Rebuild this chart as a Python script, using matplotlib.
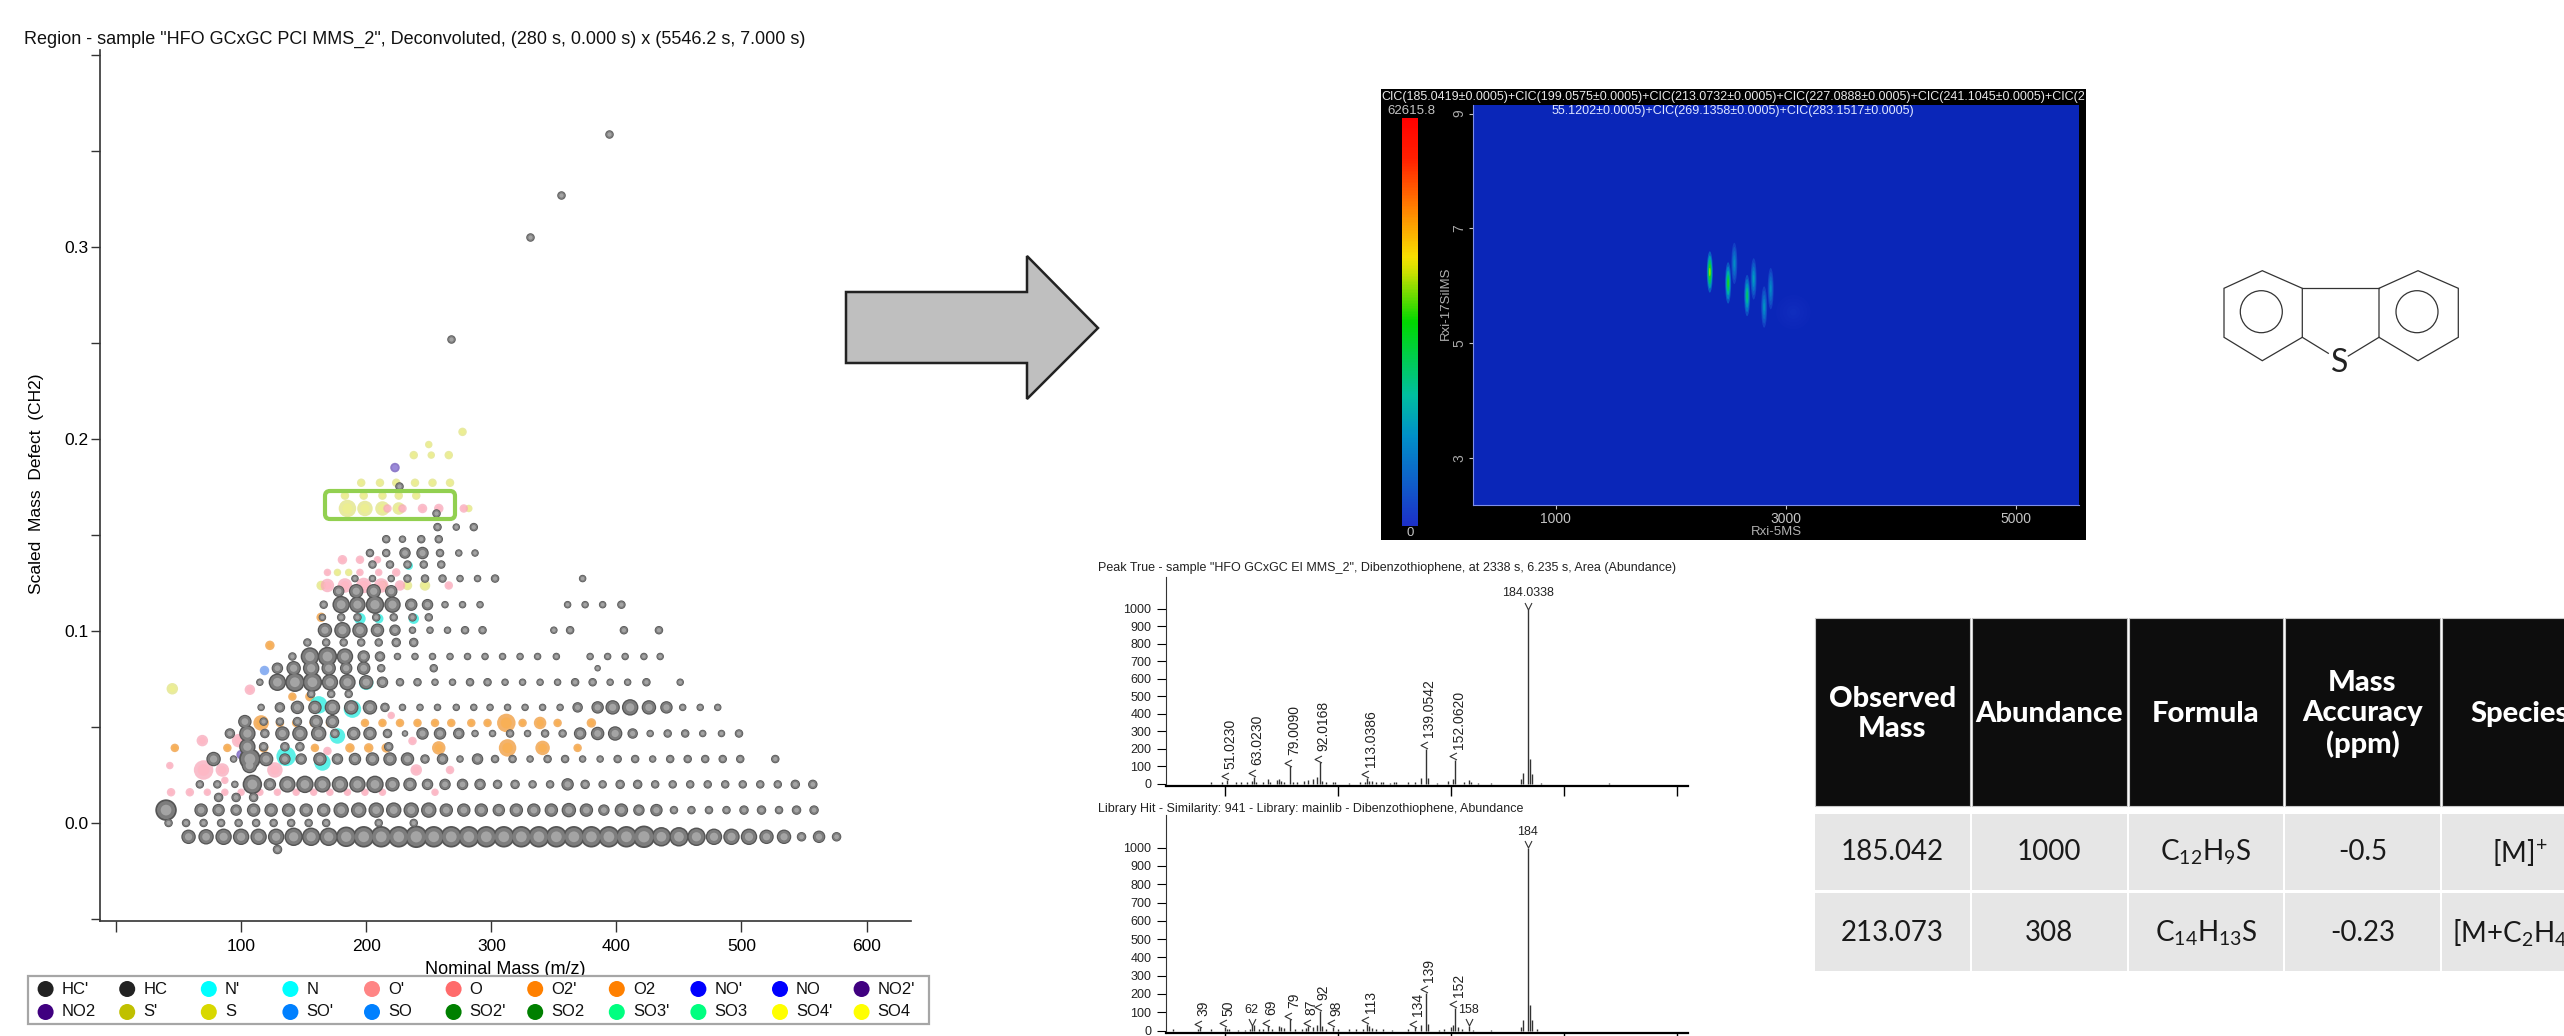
import matplotlib
matplotlib.use("Agg")
import numpy as np
import matplotlib.pyplot as plt
from matplotlib.patches import Polygon, Circle, Rectangle, FancyBboxPatch, Ellipse
from matplotlib.colors import LinearSegmentedColormap, Normalize
from matplotlib.cm import ScalarMappable
from matplotlib.path import Path

W, H = 2564, 1036
SANS = ["Liberation Sans", "DejaVu Sans"]
LATO = ["Lato", "DejaVu Sans"]
plt.rcParams["font.family"] = SANS
plt.rcParams["mathtext.fontset"] = "custom"
plt.rcParams["mathtext.rm"] = "Lato"
plt.rcParams["mathtext.it"] = "Lato"
plt.rcParams["mathtext.bf"] = "Lato:bold"
plt.rcParams["mathtext.default"] = "regular"

TITLE = 'Region - sample "HFO GCxGC PCI MMS_2", Deconvoluted, (280 s, 0.000 s) x (5546.2 s, 7.000 s)'

# Hydrocarbon rows of the mass defect plot: defect, nominal masses, marker diameter
hc_defects = [-0.0072, -0.0138, 0.0, 0.0067, 0.0133, 0.0201, 0.0302, 0.0333, 0.0397, 0.0466, 0.0528, 0.0602,
              0.0672, 0.0733, 0.0806, 0.0867, 0.0940, 0.1004, 0.1071, 0.1137, 0.1207, 0.1273, 0.1346, 0.1406,
              0.1478, 0.1541, 0.1615, 0.1755, 0.2519, 0.3051, 0.3269, 0.3591]
hc_masses = [
    [58, 72, 86, 100, 114, 128, 142, 156, 170, 184, 198, 212, 226, 240, 254, 268, 282, 296, 310, 324, 338,
     352, 366, 380, 394, 408, 422, 436, 450, 464, 478, 492, 506, 520, 534, 548, 562, 576],
    [129],
    [42, 56, 70, 84, 98, 112, 126, 140, 154, 168, 210, 238],
    [40, 68, 82, 96, 110, 124, 138, 152, 166, 180, 194, 208, 222, 236, 250, 264, 278, 292, 306, 320, 334,
     348, 362, 376, 390, 404, 418, 432, 446, 460, 474, 488, 502, 516, 530, 544, 558],
    [82, 96, 110],
    [67, 81, 95, 109, 123, 137, 151, 165, 179, 193, 207, 221, 235, 249, 263, 277, 291, 305, 319, 333, 347,
     361, 375, 389, 403, 417, 431, 445, 459, 473, 487, 501, 515, 529, 543, 557],
    [106],
    [78, 94, 107, 120, 135, 148, 163, 177, 191, 205, 219, 233, 247, 261, 275, 289, 303, 317, 331, 345, 359,
     373, 387, 401, 415, 429, 443, 457, 471, 485, 499, 527],
    [105, 118, 135, 147, 218],
    [91, 105, 119, 133, 147, 162, 175, 190, 203, 217, 231, 245, 259, 274, 287, 301, 315, 329, 343, 357, 371,
     385, 399, 413, 427, 441, 455, 469, 484, 498],
    [103, 118, 131, 145, 160, 173],
    [116, 131, 145, 159, 173, 188, 203, 215, 229, 243, 257, 272, 286, 299, 313, 327, 341, 355, 369, 385, 397,
     411, 426, 440, 453, 467, 481],
    [156, 172, 186],
    [115, 129, 143, 157, 171, 185, 200, 213, 227, 241, 255, 269, 283, 297, 311, 325, 339, 353, 367, 381, 395,
     409, 424, 451],
    [129, 142, 156, 170, 184, 198, 212, 254, 385],
    [141, 155, 169, 183, 198, 211, 225, 239, 253, 267, 281, 295, 309, 323, 337, 352, 379, 393, 407, 422, 435],
    [153, 168, 182, 196, 210, 224, 238],
    [167, 181, 195, 209, 223, 237, 251, 265, 279, 293, 350, 363, 406, 434],
    [165, 180, 193, 208, 222, 237, 250],
    [166, 180, 193, 207, 221, 236, 249, 263, 277, 291, 361, 375, 389, 404],
    [178, 192, 206, 220],
    [191, 205, 220, 233, 247, 261, 275, 289, 303, 373],
    [205, 219, 233, 246, 260],
    [203, 216, 231, 245, 259, 274, 287],
    [216, 229, 244, 258],
    [257, 272, 286],
    [256],
    [226],
    [268],
    [331],
    [356],
    [394],
]
hc_sizes = [
    [13, 14, 15, 15, 15, 15, 17, 17, 17, 19, 20, 20, 20, 21, 20, 20, 20, 20, 20, 20, 20,
     20, 20, 20, 20, 20, 21, 18, 18, 17, 15, 15, 15, 13, 13, 8, 11, 8],
    [8],
    [7, 7, 7, 7, 7, 7, 7, 7, 7, 7, 7, 7],
    [20, 12, 11, 10, 12, 12, 12, 12, 12, 14, 14, 14, 14, 14, 14, 12, 12, 12, 11, 12, 12,
     12, 13, 12, 10, 12, 10, 11, 7, 7, 7, 7, 8, 8, 7, 8, 8],
    [8, 8, 8],
    [7, 7, 6, 18, 11, 15, 16, 15, 15, 15, 16, 13, 12, 10, 10, 10, 10, 8, 8, 7, 7,
     11, 8, 7, 8, 8, 7, 7, 7, 7, 7, 7, 7, 7, 8, 8],
    [14],
    [13, 6, 20, 13, 10, 10, 12, 10, 11, 12, 12, 12, 8, 10, 6, 10, 7, 7, 6, 7, 7,
     6, 6, 7, 7, 6, 7, 7, 7, 7, 7, 7],
    [15, 8, 8, 8, 8],
    [9, 15, 8, 13, 14, 14, 8, 12, 12, 8, 5, 11, 11, 10, 6, 6, 7, 6, 7, 7, 11,
     12, 13, 9, 6, 7, 7, 6, 6, 7],
    [12, 7, 7, 8, 12, 12],
    [6, 9, 12, 12, 14, 13, 13, 8, 6, 6, 6, 6, 6, 6, 6, 6, 6, 6, 9, 11, 13,
     15, 13, 11, 6, 6, 6],
    [7, 7, 7],
    [6, 16, 18, 18, 15, 15, 13, 10, 7, 7, 6, 6, 7, 7, 6, 6, 6, 6, 7, 7, 6,
     6, 7, 6],
    [10, 13, 15, 13, 11, 12, 7, 7, 5],
    [7, 17, 18, 15, 11, 9, 6, 6, 6, 6, 6, 6, 6, 6, 6, 6, 6, 6, 6, 6, 6],
    [7, 7, 7, 7, 7, 8, 8],
    [13, 15, 14, 12, 10, 6, 6, 6, 7, 7, 6, 7, 7, 7],
    [6, 7, 7, 7, 7, 7, 7],
    [7, 16, 15, 17, 15, 11, 10, 6, 6, 6, 6, 6, 6, 7],
    [10, 13, 13, 11],
    [6, 6, 6, 7, 7, 7, 6, 6, 7, 6],
    [7, 7, 7, 7, 7],
    [7, 7, 10, 11, 7, 6, 6],
    [7, 6, 7, 7],
    [7, 6, 7],
    [7],
    [7],
    [7],
    [7],
    [7],
    [7],
]

# coloured classes: mass, defect, diameter
cyan_mass = [136, 165, 162, 189, 177, 200, 186, 195, 210, 238, 234]
cyan_defect = [0.0347, 0.0315, 0.0615, 0.0593, 0.0453, 0.0730, 0.0721, 0.1064, 0.1064, 0.1064, 0.1340]
cyan_size = [18, 15, 16, 16, 14, 13, 8, 10, 8, 9, 7]

pink_mass = [217, 229, 245, 258, 278, 169, 183, 198, 212, 227, 266, 181, 195, 209, 169, 195, 210, 224,
             70, 85, 127, 240, 267, 44, 59, 73, 87, 100, 115, 129, 144, 158, 171, 185, 199, 213, 255,
             87, 43, 69, 98, 107, 220, 237, 169]
pink_defect = [0.1638, 0.1638, 0.1638, 0.1638, 0.1638, 0.1237, 0.1237, 0.1237, 0.1237, 0.1237, 0.1237,
               0.1371, 0.1371, 0.1371, 0.1305, 0.1305, 0.1305, 0.1305,
               0.0276, 0.0276, 0.0276, 0.0276, 0.0276, 0.016, 0.016, 0.016, 0.016, 0.016, 0.016, 0.016, 0.016,
               0.016, 0.016, 0.016, 0.016, 0.016, 0.016, 0.0222, 0.0299, 0.0429, 0.0429, 0.0694, 0.056, 0.0427,
               0.0375]
pink_size = [7, 7, 8, 8, 7, 12, 13, 14, 13, 9, 7, 8, 7, 6, 6, 6, 6, 7,
             18, 12, 14, 10, 7, 7, 7, 6, 6, 6, 6, 6, 6, 6, 6, 6, 6, 6, 6,
             6, 6, 10, 12, 9, 6, 7, 7]

orange_mass = [116, 131, 144, 158, 171, 199, 213, 227, 241, 255, 268, 284, 297, 312, 325, 339, 353, 380,
               47, 89, 118, 159, 187, 202, 216, 258, 313, 341, 369, 123, 164, 141, 155]
orange_defect = [0.0521, 0.0521, 0.0521, 0.0521, 0.0521, 0.0521, 0.0521, 0.0521, 0.0521, 0.0521, 0.0521,
                 0.0521, 0.0521, 0.0521, 0.0521, 0.0521, 0.0521, 0.0521,
                 0.0391, 0.0391, 0.0391, 0.0391, 0.0391, 0.0391, 0.0391, 0.0391, 0.0391, 0.0391, 0.0391,
                 0.0925, 0.1071, 0.0658, 0.0658]
orange_size = [14, 7, 7, 7, 7, 7, 7, 7, 7, 7, 7, 7, 7, 17, 7, 11, 7, 8,
               7, 7, 8, 7, 8, 8, 8, 12, 16, 13, 7, 8, 8, 7, 8]

sulfur_mass = [185, 199, 213, 226, 282, 183, 198, 213, 226, 240, 196, 211, 224, 239, 253, 267,
               238, 252, 266, 250, 277, 164, 177, 186, 45, 213, 233, 247]
sulfur_defect = [0.1638, 0.1638, 0.1638, 0.1638, 0.1638, 0.1705, 0.1705, 0.1705, 0.1705, 0.1705,
                 0.1772, 0.1772, 0.1772, 0.1772, 0.1772, 0.1772, 0.1916, 0.1916, 0.1916, 0.1971, 0.2037,
                 0.1237, 0.1305, 0.1305, 0.0699, 0.1237, 0.1237, 0.1237]
sulfur_size = [16, 14, 13, 11, 6, 7, 7, 7, 7, 7, 7, 7, 7, 7, 7, 7, 7, 6, 7, 6, 7, 8, 6, 6, 10, 8, 8, 9]

no2_mass = [223, 100]
no2_defect = [0.1851, 0.0356]
no2_size = [8, 8]
so_mass = [118]
so_defect = [0.0797]
so_size = [8]

legend_labels = ["HC'", "HC", "N'", "N", "O'", "O", "O2'", "O2", "NO'", "NO", "NO2'",
                 "NO2", "S'", "S", "SO'", "SO", "SO2'", "SO2", "SO3'", "SO3", "SO4'", "SO4"]
legend_colors = ["#222222", "#222222", "#00ffff", "#00ffff", "#ff8585", "#ff6b6b", "#ff8000", "#ff8000",
                 "#0000ff", "#0000ff", "#400080", "#400080", "#c0c000", "#d8d800", "#0080ff", "#0080ff",
                 "#008000", "#008000", "#00ff80", "#00ff80", "#ffff00", "#ffff00"]

# GCxGC peaks: retention 1, retention 2, relative height
peak_rt1 = [3064, 2551, 2719, 2867, 2810, 2662, 2497, 2338]
peak_rt2 = [5.54, 6.39, 6.12, 5.95, 5.63, 5.83, 6.05, 6.24]
peak_height = [0.03, 0.22, 0.26, 0.22, 0.24, 0.40, 0.50, 0.62]

# EI spectrum of the sample
ei_mz = [44, 49, 51, 55, 57, 60, 62, 63, 64, 67, 69, 70, 73, 74, 75, 76, 79, 80, 82, 85, 87, 89, 91, 92, 93,
         95, 98, 99, 105, 110, 112, 113, 114, 115, 117, 119, 120, 123, 125, 126, 131, 134, 137, 139, 140, 144,
         149, 151, 152, 156, 158, 159, 162, 168, 181, 182, 184, 185, 186, 190, 220]
ei_abundance = [10, 8, 22, 8, 8, 8, 12, 40, 8, 8, 28, 10, 20, 25, 15, 8, 100, 8, 10, 15, 20, 25, 40, 122, 15,
                6, 10, 10, 5, 6, 8, 32, 15, 12, 6, 6, 6, 5, 8, 6, 6, 10, 30, 200, 30, 5,
                15, 25, 135, 6, 20, 8, 5, 4, 25, 60, 1000, 142, 55, 5, 4]
ei_labels = ["51.0230", "63.0230", "79.0090", "92.0168", "113.0386", "139.0542", "152.0620", "184.0338"]
ei_label_mz = [51, 63, 79, 92, 113, 139, 152, 184]
ei_label_abundance = [22, 40, 100, 122, 32, 200, 135, 1000]

# library spectrum
lib_mz = [27, 38, 39, 44, 50, 51, 52, 56, 59, 61, 62, 63, 65, 67, 69, 71, 74, 75, 76, 79, 81, 84, 86, 87, 89,
          91, 92, 93, 95, 98, 100, 105, 108, 111, 113, 114, 115, 117, 120, 124, 131, 134, 137, 139, 140, 145,
          147, 150, 151, 152, 153, 155, 158, 160, 168, 181, 182, 184, 185, 186, 188]
lib_abundance = [6, 8, 18, 10, 20, 8, 6, 5, 5, 10, 28, 28, 8, 10, 22, 8, 25, 20, 15, 62, 10, 10, 15, 22, 20,
                 30, 108, 25, 8, 20, 6, 6, 10, 10, 35, 25, 15, 6, 6, 5, 6, 18, 30, 205, 35, 5,
                 8, 20, 28, 125, 18, 6, 25, 5, 4, 20, 60, 1000, 140, 55, 8]
lib_labels = ["39", "50", "62", "69", "79", "87", "92", "98", "113", "134", "139", "152", "158", "184"]
lib_label_mz = [39, 50, 62, 69, 79, 87, 92, 98, 113, 134, 139, 152, 158, 184]
lib_label_abundance = [18, 20, 28, 22, 62, 22, 108, 20, 35, 18, 205, 125, 25, 1000]

table_headers = ["Observed\nMass", "Abundance", "Formula", "Mass\nAccuracy\n(ppm)", "Species"]
table_row_1 = ["185.042", "1000", "C$_{12}$H$_{9}$S", "-0.5", "[M]$^{+}$"]
table_row_2 = ["213.073", "308", "C$_{14}$H$_{13}$S", "-0.23", "[M+C$_{2}$H$_{4}$]$^{+}$"]


def px_axes(left, top, right, bottom, **kw):
    return fig.add_axes([left / W, 1 - bottom / H, (right - left) / W, (bottom - top) / H], **kw)


def spheres(ax, x, y, d, color, alpha=1.0, z=2):
    d = np.asarray(d, dtype=float) * 0.72
    ax.scatter(x, y, s=d ** 2, color=color, alpha=alpha, lw=0, zorder=z)


def gray_spheres(ax, x, y, d, z=3):
    d = np.asarray(d, dtype=float) + 1.5
    spheres(ax, x, y, d, "#555555", z=z)
    spheres(ax, x, y, d * 0.84, "#7d7d7d", z=z + 0.1)
    spheres(ax, x, y, d * 0.5, "#a4a4a4", z=z + 0.2)


def shaded(ax, x, y, d, light, dark, z, alpha=0.75):
    d = np.asarray(d, dtype=float) + 1.5
    spheres(ax, x, y, d, dark, alpha=alpha, z=z)
    spheres(ax, x, y, d * 0.6, light, alpha=alpha, z=z + 0.05)


fig = plt.figure(figsize=(W / 100, H / 100), dpi=100, facecolor="white")

# mass defect plot
ax = px_axes(100, 50, 911, 920.5)
ax.set_xlim(-12.8, 635.5)
ax.set_ylim(-0.0508, 0.4026)
for side in ["top", "right"]:
    ax.spines[side].set_visible(False)
for side in ["left", "bottom"]:
    ax.spines[side].set_color("#333333")
    ax.spines[side].set_linewidth(1.2)
ax.set_xticks([0, 100, 200, 300, 400, 500, 600])
ax.set_xticklabels(["", "100", "200", "300", "400", "500", "600"], fontsize=12.5)
ax.set_yticks([0.0, 0.1, 0.2, 0.3])
ax.set_yticks([-0.05, 0.05, 0.15, 0.25, 0.35, 0.4], minor=True)
ax.set_yticklabels(["0.0", "0.1", "0.2", "0.3"], fontsize=12.5)
ax.tick_params(axis="x", length=8, width=1, color="#333333", pad=5.5)
ax.tick_params(axis="y", which="both", length=6.5, width=1, color="#333333", pad=2)
ax.set_xlabel("Nominal Mass (m/z)", fontsize=13, labelpad=4.5)

shaded(ax, sulfur_mass, sulfur_defect, sulfur_size, "#eef08c", "#dfe27a", 2, alpha=0.7)
shaded(ax, pink_mass, pink_defect, pink_size, "#ffb6c4", "#f8a8ba", 2.2)
shaded(ax, orange_mass, orange_defect, orange_size, "#fbb050", "#ef9a3a", 2.4)
shaded(ax, cyan_mass, cyan_defect, cyan_size, "#55f5ea", "#26ecdf", 2.6)
shaded(ax, no2_mass, no2_defect, no2_size, "#a090e0", "#6a50b8", 2.8)
shaded(ax, so_mass, so_defect, so_size, "#8ab0f5", "#6a98ec", 2.8)

for defect, masses, sizes in zip(hc_defects, hc_masses, hc_sizes):
    gray_spheres(ax, masses, [defect] * len(masses), sizes)

# everything else is placed on a full figure overlay in pixels
ov = px_axes(0, 0, W, H, facecolor="none")
ov.set_xlim(0, W)
ov.set_ylim(H, 0)
ov.axis("off")

ov.text(24, 39, TITLE, fontsize=13, va="center", ha="left", color="#111111")
ov.text(37, 484, "Scaled  Mass  Defect  (CH2)", fontsize=12.5, rotation=90, va="center", ha="center")

ov.add_patch(FancyBboxPatch((328, 494), 124, 22, boxstyle="round,pad=3,rounding_size=5",
                            fc="none", ec="#92d050", lw=3, zorder=6))

# legend
ov.add_patch(Rectangle((28, 976), 901, 48, fc="white", ec="#a6a6a6", lw=1.6))
for i, (lab, col) in enumerate(zip(legend_labels, legend_colors)):
    col_x = 45.6 + 81.6 * (i % 11)
    row_y = 989 if i < 11 else 1012
    ov.add_patch(Circle((col_x, row_y), 8, fc=col, ec="none"))
    ov.text(col_x + 16, row_y, lab, fontsize=12, va="center", ha="left", color="#111111")

# arrow
ov.add_patch(Polygon([(846, 292), (1027, 292), (1027, 256), (1098, 328), (1027, 399), (1027, 363), (846, 363)],
                     closed=True, fc="#bfbfbf", ec="#222222", lw=1.8))

# chromatogram panel
panel = px_axes(1381, 89, 2086, 540, facecolor="black")
panel.set_xlim(1381, 2086)
panel.set_ylim(540, 89)
panel.set_xticks([])
panel.set_yticks([])
for s in panel.spines.values():
    s.set_visible(False)
panel.text(1381, 97, "CIC(185.0419±0.0005)+CIC(199.0575±0.0005)+CIC(213.0732±0.0005)+CIC(227.0888±0.0005)"
           "+CIC(241.1045±0.0005)+CIC(2", color="#e8e8e8", fontsize=9, va="center", clip_on=True)
panel.text(1387, 111, "62615.8", color="#c4c4c4", fontsize=9.5, va="center")
panel.text(1410, 533, "0", color="#c4c4c4", fontsize=9.5, va="center", ha="center")
panel.text(1446, 303, "Rxi-17SilMS", color="#b0b0b0", fontsize=9.5, rotation=90, va="center", ha="center")

heat = LinearSegmentedColormap.from_list("tic", [(0, "#1c30c8"), (0.22, "#0090c8"), (0.32, "#00c0a0"), (0.5, "#00d800"),
                                                 (0.62, "#c8e000"), (0.66, "#f8e000"), (0.78, "#ff8000"), (0.9, "#ff2000"),
                                                 (1, "#ff0000")])
cax = px_axes(1401.5, 118, 1417.6, 526)
cb = fig.colorbar(ScalarMappable(norm=Normalize(0, 1), cmap=heat), cax=cax)
cb.set_ticks([])
cb.outline.set_visible(False)

tic = px_axes(1473, 105, 2079, 505, facecolor="#0a26b8")
tic.set_xlim(280, 5546)
tic.set_ylim(2.18, 9.15)
for side in ["top", "right"]:
    tic.spines[side].set_visible(False)
for side in ["left", "bottom"]:
    tic.spines[side].set_color("#7f8fe8")
tic.set_xticks([1000, 3000, 5000])
tic.set_yticks([3, 5, 7, 9])
tic.set_xticklabels(["1000", "3000", "5000"], fontsize=10, color="#c4c4c4")
tic.set_yticklabels(["3", "5", "7", "9"], fontsize=10, color="#a8a8a8", rotation=90, va="center")
tic.tick_params(length=3, color="#c4c4c4", pad=2)
tic.set_xlabel("Rxi-5MS", fontsize=9.5, color="#b0b0b0", labelpad=0)
for rt1, rt2, h in zip(peak_rt1, peak_rt2, peak_height):
    faint = h < 0.1
    wide = 300 if faint else 52
    tall = 0.6 if faint else 0.72
    for frac in [1.0, 0.8, 0.6, 0.4, 0.2]:
        col = heat(h * (1.25 - frac))
        tic.add_patch(Ellipse((rt1, rt2), wide * frac, tall * frac, fc=col, ec="none", alpha=0.12 if faint else 0.75))

# spectra
chevron_left = Path([(1, 1), (-1, 0), (1, -1)])
chevron_down = Path([(-1, 1), (0, -1), (1, 1)])


def spectrum(top, zero, full, mz, abundance, label_mz, label_abundance, labels, flat):
    sp = px_axes(1166, top, 1688, zero + 2)
    sp.set_xlim(24, 255)
    span = (zero + 2 - top) / (zero - full) * 1000
    sp.set_ylim(-span * 2 / (zero + 2 - top), span - span * 2 / (zero + 2 - top))
    sp.vlines(mz, 0, abundance, color="#333333", lw=1)
    for side in ["top", "right"]:
        sp.spines[side].set_visible(False)
    sp.spines["left"].set_color("#333333")
    sp.spines["bottom"].set_linewidth(1.6)
    sp.set_xticks([50, 100, 150, 200, 250])
    sp.set_xticklabels([])
    sp.set_yticks(range(0, 1001, 100))
    sp.set_yticklabels([str(v) for v in range(0, 1001, 100)], fontsize=9, color="#222222")
    sp.tick_params(axis="x", length=7, width=1)
    sp.tick_params(axis="y", length=6.5, width=0.8, pad=4)
    for xm, ya, lab in zip(label_mz, label_abundance, labels):
        if lab in flat:
            sp.plot([xm], [ya + 20], marker=chevron_down, ms=5, mfc="none", mec="#333333", mew=0.8, clip_on=False)
            sp.annotate(lab, (xm, ya), xytext=(0, 7), textcoords="offset points", ha="center", va="bottom",
                        fontsize=9, color="#222222", annotation_clip=False)
        else:
            sp.plot([xm - 0.8], [ya + 20], marker=chevron_left, ms=5, mfc="none", mec="#333333", mew=0.8, clip_on=False)
            sp.annotate(lab, (xm, ya), xytext=(2.5, 8), textcoords="offset points", ha="center", va="bottom",
                        rotation=90, fontsize=10, color="#222222", annotation_clip=False)


spectrum(577, 783.5, 609, ei_mz, ei_abundance, ei_label_mz, ei_label_abundance, ei_labels, ["184.0338"])
spectrum(815, 1030.5, 847.7, lib_mz, lib_abundance, lib_label_mz, lib_label_abundance, lib_labels, ["62", "158", "184"])

ov2 = px_axes(0, 0, W, H, facecolor="none")
ov2.set_xlim(0, W)
ov2.set_ylim(H, 0)
ov2.axis("off")
ov2.text(1552, 111, "55.1202±0.0005)+CIC(269.1358±0.0005)+CIC(283.1517±0.0005)", color="#dfe6ff", fontsize=9, va="center")
ov2.text(1098, 568, 'Peak True - sample "HFO GCxGC EI MMS_2", Dibenzothiophene, at 2338 s, 6.235 s, Area (Abundance)',
         fontsize=9, va="center", color="#222222")
ov2.text(1098, 809, "Library Hit - Similarity: 941 - Library: mainlib - Dibenzothiophene, Abundance",
         fontsize=9, va="center", color="#222222")

# dibenzothiophene
ring_left = [(2262.3, 270.7), (2302.3, 288.3), (2302.3, 337.3), (2262.3, 360.7), (2224, 337.3), (2224, 288.3)]
ring_right = [(2418, 270.7), (2458.3, 288.3), (2458.3, 337.3), (2418, 360.7), (2379, 337.3), (2379, 288.3)]
for ring in [ring_left, ring_right]:
    ov2.add_patch(Polygon(ring, closed=True, fc="none", ec="#333333", lw=0.9))
for cx in [2261.3, 2417]:
    ov2.add_patch(Circle((cx, 311.7), 21, fc="none", ec="#333333", lw=0.9))
ov2.plot([2302.3, 2379], [288.3, 288.3], color="#333333", lw=0.9)
ov2.plot([2302.3, 2328.3], [337.3, 353.3], color="#333333", lw=0.9)
ov2.plot([2379, 2348.3], [337.3, 356], color="#333333", lw=0.9)
ov2.text(2340, 363, "S", family=LATO, fontsize=23, ha="center", va="center", color="#222222")

# table
col_left = [1814.6, 1972, 2129, 2285, 2442]
col_right = [1970, 2126.5, 2283, 2440, 2597]
for j in range(5):
    l, r = col_left[j], col_right[j]
    c = (l + r) / 2
    ov2.add_patch(Rectangle((l, 618), r - l, 188, fc="#0d0d0d", ec="#c8c8c8", lw=0.8))
    ov2.add_patch(Rectangle((l, 814), r - l, 76, fc="#e6e6e6", ec="none"))
    ov2.add_patch(Rectangle((l, 893), r - l, 78, fc="#e6e6e6", ec="none"))
    ov2.text(c, 714, table_headers[j], family=LATO, weight="black", fontsize=21, color="white",
             ha="center", va="center", linespacing=1.2)
    ov2.text(c, 852, table_row_1[j], family=LATO, fontsize=20, color="#1a1a1a", ha="center", va="center")
    ov2.text(c, 933, table_row_2[j], family=LATO, fontsize=20, color="#1a1a1a", ha="center", va="center")

fig.savefig("out.png", dpi=100)
